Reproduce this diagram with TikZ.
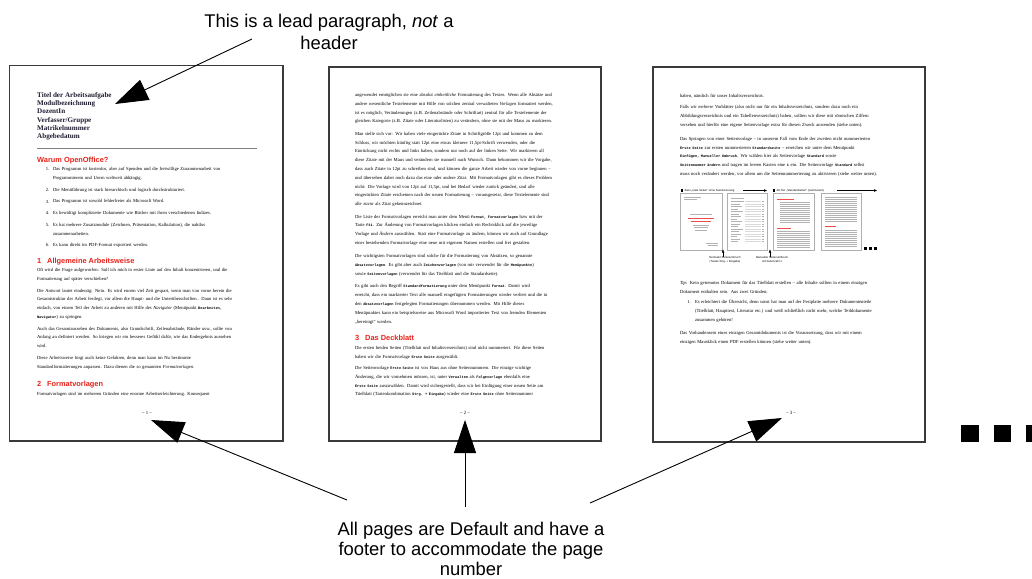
\documentclass[tikz,border=0pt]{standalone}
\usepackage{fontspec}
\setmainfont{Liberation Serif}
\newfontfamily\arial{Liberation Sans}
\newfontfamily\mono{Liberation Mono}
\usetikzlibrary{arrows.meta}
\definecolor{hred}{RGB}{230,34,26}
\definecolor{titleblue}{RGB}{28,28,48}
\definecolor{pageframe}{RGB}{58,58,58}
\definecolor{thumbgray}{RGB}{175,175,175}
\newcommand\mn[1]{{\mono\bfseries\fontsize{3.6}{8.8}\selectfont #1}}
\newcommand\pgtext[4]{\node[body] (#1) at (#2,#3-3.3) {#4};}
\newcommand\pgnum[4]{\node[num] (#1) at (#2,#3) {#4};}
\tikzset{
  page/.style={draw=pageframe, line width=1.8pt, fill=white},
  body/.style={anchor=north west, inner sep=0pt, outer sep=0pt, font=\fontsize{4.65}{8.8}\selectfont, align=left, text width=250pt},
  num/.style={anchor=base east, inner sep=0pt, font=\fontsize{4.65}{8.8}\selectfont},
  head/.style={anchor=base west, inner sep=0pt, font=\arial\bfseries\fontsize{7.4}{8.8}\selectfont, text=hred},
  foot/.style={anchor=base, inner sep=0pt, font=\fontsize{4.8}{8.8}\selectfont},
  callout/.style={inner sep=0pt, align=center},
  bigarrow/.style={draw=black, line width=0.9pt, -{Triangle[length=33pt,width=22pt]}},
  thumb/.style={draw=thumbgray, line width=0.5pt, fill=white},
  tl/.style={draw=black!30, line width=0.45pt},
  tr/.style={draw=hred!80, line width=0.7pt},
  tiny/.style={inner sep=0pt, font=\arial\fontsize{2.8}{3.6}\selectfont, align=center},
  smallarrow/.style={draw=black, line width=0.35pt, -{Triangle[length=3pt,width=2.4pt]}},
  dot/.style={fill=black},
}
\begin{document}
\begin{tikzpicture}[x=1pt,y=-1pt]
\useasboundingbox (0,0) rectangle (1032,578);
\clip (0,0) rectangle (1032,578);

% ---------------- pages ----------------
\draw[page] (9.5,65.5) rectangle (283,441);
\draw[page] (329,67) rectangle (601,441);
\draw[page] (653,67) rectangle (925,442);

% ---------------- page 1 ----------------
\node[anchor=north west, inner sep=0pt, font=\fontsize{7.1}{8.2}\selectfont\bfseries, text=titleblue, align=left] (titleblock) at (37,92.2)
 {Titel der Arbeitsaufgabe\\Modulbezeichnung\\DozentIn\\Verfasser/Gruppe\\Matrikelnummer\\Abgebedatum};
\draw[black!50, line width=0.7pt] (37,148.3) -- (257,148.3);
\node[head] (h1a) at (37,162) {Warum OpenOffice?};

\pgnum{n1}{49.5}{170.3}{1.}
\pgtext{i1}{53}{170.3}{Das Programm ist kostenlos, aber auf Spenden und die freiwillige Zusammenarbeit von\\Programmierern und Usern weltweit abhängig.}
\pgnum{n2}{49.5}{191.3}{2.}
\pgtext{i2}{53}{191.3}{Die Menüführung ist stark hierarchisch und logisch durchstrukturiert.}
\pgnum{n3}{49.5}{203}{3.}
\pgtext{i3}{53}{203}{Das Programm ist sowohl fehlerfreier als Microsoft Word.}
\pgnum{n4}{49.5}{214.5}{4.}
\pgtext{i4}{53}{214.5}{Es bewältigt komplizierte Dokumente wie Bücher mit ihren verschiedenen Indizes.}
\pgnum{n5}{49.5}{226.3}{5.}
\pgtext{i5}{53}{226.3}{Es hat mehrere Zusatzmodule (Zeichnen, Präsentation, Kalkulation), die nahtlos\\zusammenarbeiten.}
\pgnum{n6}{49.5}{246.3}{6.}
\pgtext{i6}{53}{246.3}{Es kann direkt im PDF-Format exportiert werden.}

\node[head] (h1bn) at (37,263.6) {1};
\node[head] (h1b) at (47,263.6) {Allgemeine Arbeitsweise};
\pgtext{pa}{37}{271.3}{Oft wird die Frage aufgeworfen: Soll ich mich in erster Linie auf den Inhalt konzentrieren, und die\\Formatierung auf später verschieben?}
\pgtext{pb}{37}{292.2}{Die Antwort lautet eindeutig: Nein. Es wird enorm viel Zeit gespart, wenn man von vorne herein die\\Gesamtstruktur der Arbeit festlegt, vor allem die Haupt- und die Unterüberschriften.. Dann ist es sehr\\einfach, von einem Teil der Arbeit zu anderen mit Hilfe des \textit{Navigator} (Menüpunkt \mn{Bearbeiten,}\\\mn{Navigator}) zu springen.}
\pgtext{pc}{37}{330.2}{Auch das Gesamtaussehen des Dokuments, also Grundschrift, Zeilenabstände, Ränder usw., sollte von\\Anfang an definiert werden. So kriegen wir ein besseres Gefühl dafür, wie das Endergebnis aussehen\\wird.}
\pgtext{pd}{37}{360}{Diese Arbeitsweise birgt auch keine Gefahren, denn man kann im Nu bestimmte\\Standardformatierungen anpassen. Dazu dienen die so genannten \textit{Formatvorlagen}.}
\node[head] (h1cn) at (37,386.6) {2};
\node[head] (h1c) at (47,386.6) {Formatvorlagen};
\pgtext{pe}{37}{395.3}{Formatvorlagen sind im mehreren Gründen eine enorme Arbeitserleichterung. Konsequent}
\node[foot] (f1) at (147,414) {– 1 –};

% ---------------- page 2 ----------------
\pgtext{q1}{355}{96.5}{angewendet ermöglichen sie eine absolut \textit{einheitliche} Formatierung des Textes. Wenn alle Absätze und\\andere wesentliche Textelemente mit Hilfe von solchen zentral verwalteten \textit{Vorlagen} formatiert werden,\\ist es möglich, Veränderungen (z.B. Zeilenabstände oder Schriftart) zentral für alle Textelemente der\\gleichen Kategorie (z.B. Zitate oder Literaturlisten) zu verändern, ohne sie mit der Maus zu markieren.}
\pgtext{q2}{355}{135.3}{Man stelle sich vor: Wir haben viele eingerückte Zitate in Schriftgröße 12pt und kommen zu dem\\Schluss, wir möchten künftig statt 12pt eine etwas kleinere 11,5pt-Schrift verwenden, oder die\\Einrückung nicht rechts und links haben, sondern nur noch auf der linken Seite. Wir markieren all\\diese Zitate mit der Maus und verändern sie manuell nach Wunsch. Dann bekommen wir die Vorgabe,\\dass auch Zitate in 12pt zu schreiben sind, und können die ganze Arbeit wieder von vorne beginnen –\\und übersehen dabei noch dazu das eine oder andere Zitat. Mit Formatvorlagen gibt es dieses Problem\\nicht: Die Vorlage wird von 12pt auf 11,5pt, und bei Bedarf wieder zurück geändert, und alle\\eingerückten Zitate erscheinen nach der neuen Formatierung – vorausgesetzt, diese Textelemente sind\\alle zuvor als Zitat gekennzeichnet.}
\pgtext{q3}{355}{218.1}{Die Liste der Formatvorlagen erreicht man unter dem Menü \mn{Format, Formatvorlagen} bzw mit der\\Taste \mn{F11}. Zur Änderung von Formatvorlagen klicken einfach ein Rechtsklick auf die jeweilige\\Vorlage und \textit{Ändern} auswählen. Statt eine Formatvorlage zu ändern, können wir auch auf Grundlage\\einer bestehenden Formatvorlage eine neue mit eigenem Namen erstellen und frei gestalten.}
\pgtext{q4}{355}{257.5}{Die wichtigsten Formatvorlagen sind solche für die Formatierung von Absätzen, so genannte\\\mn{Absatzvorlagen}. Es gibt aber auch \mn{Zeichenvorlagen} (von mir verwendet für die \mn{Menüpunkte})\\sowie \mn{Seitenvorlagen} (verwendet für das Titelblatt und die Standardseite).}
\pgtext{q5}{355}{288}{Es gibt auch den Begriff \mn{Standardformatierung} unter dem Menüpunkt \mn{Format}. Damit wird\\erreicht, dass ein markierter Text alle manuell eingefügten Formatierungen wieder verliert und die in\\den \mn{Absatzvorlagen} festgelegten Formatierungen übernommen werden. Mit Hilfe dieses\\Menüpunktes kann ein beispielsweise aus Microsoft Word importierter Text von fremden Elementen\\„bereinigt“ werden.}
\node[head] (h2n) at (355,340.6) {3};
\node[head] (h2) at (365,340.6) {Das Deckblatt};
\pgtext{q6}{355}{349.5}{Die ersten beiden Seiten (Titelblatt und Inhaltsverzeichnis) sind nicht nummeriert. Für diese Seiten\\haben wir die Formatvorlage \mn{Erste Seite} ausgewählt.}
\pgtext{q7}{355}{369.5}{Die Seitenvorlage \mn{Erste Seite} ist von Haus aus ohne Seitennummern. Die einzige wichtige\\Änderung, die wir vornehmen müssen, ist, unter \mn{Verwalten} als \mn{Folgevorlage} ebenfalls eine\\\mn{Erste Seite} auszuwählen. Damit wird sichergestellt, dass wir bei Einfügung einer neuen Seite am\\Titelblatt (Tastenkombination \mn{Strg. + Eingabe}) wieder eine \mn{Erste Seite} ohne Seitennummer}
\node[foot] (f2) at (465,414.5) {– 2 –};

% ---------------- page 3 ----------------
\pgtext{r1}{680}{97.3}{haben, nämlich für unser Inhaltsverzeichnis.}
\pgtext{r2}{680}{108.6}{Falls wir \textit{mehrere} Vorblätter (also nicht nur für ein Inhaltsverzeichnis, sondern dazu noch ein\\Abbildungsverzeichnis und ein Tabellenverzeichnis) haben, sollten wir diese mit römischen Ziffern\\versehen und hierfür eine eigene Seitenvorlage extra für diesen Zweck anwenden (siehe unten).}
\pgtext{r3}{680}{140.3}{Das Springen von einer Seitenvorlage – in unserem Fall vom Ende der zweiten nicht nummerierten\\\mn{Erste Seite} zur ersten nummerierten \mn{Standardseite} – erreichen wir unter dem Menüpunkt\\\mn{Einfügen, Manueller Umbruch}. Wir wählen hier als Seitenvorlage \mn{Standard} sowie\\\mn{Seitennummer ändern} und tragen im leeren Kasten eine \mn{1} ein. Die Seitenvorlage \mn{Standard} selbst\\muss noch verändert werden, vor allem um die Seitennummerierung zu aktivieren (siehe weiter unten).}

% mini diagram
\fill[dot] (680.8,189.3) rectangle (683.3,191.8);
\node[tiny, anchor=west] (lab1) at (684.5,190.5) {Zwei „erste Seiten“ ohne Nummerierung};
\coordinate (la1s) at (743,190.5);
\coordinate (la1e) at (767,190.5);
\draw[smallarrow] (la1s) -- (la1e);
\fill[dot] (772.8,189.3) rectangle (775.3,191.8);
\node[tiny, anchor=west] (lab2) at (776.5,190.5) {Ab hier „Standardseiten“ (nummeriert)};
\coordinate (la2s) at (837,190.5);
\coordinate (la2e) at (877,190.5);
\draw[smallarrow] (la2s) -- (la2e);

\draw[thumb] (680,193.5) rectangle (722,250);
\draw[tl] (684,197.5) -- (701,197.5); \draw[tl] (684,199.5) -- (697,199.5);
\draw[tl] (690,214) -- (712,214);
\draw[tr, line width=0.9pt] (688,218.5) -- (714,218.5);
\draw[tr, line width=0.5pt] (691,221.5) -- (711,221.5);
\draw[tl] (693,225) -- (709,225); \draw[tl] (694,227.5) -- (708,227.5); \draw[tl] (695,230) -- (707,230);
\draw[tl] (706,243) -- (718,243); \draw[tl] (708,245) -- (718,245);

\draw[thumb] (727,193.5) rectangle (767,250);
\draw[tl] (731,198) -- (744,198);
\foreach \yy/\ll in {201.5/13,204/9,206.5/11,209/7,211.5/12,214/8,216.5/10,219/6,221.5/11,224/9,226.5/7,229/12,231.5/8,234/10,236.5/6,239/9,241.5/7}{
  \draw[tl, line width=0.35pt] (731,\yy) -- (731+\ll,\yy);
  \draw[tl, black!15, line width=0.35pt] (745,\yy) -- (761,\yy);
  \draw[tl, line width=0.35pt] (762,\yy) -- (764,\yy);
}

\draw[thumb] (773,193.5) rectangle (814,250);
\draw[tr] (777,199) -- (794,199);
\foreach \yy in {202,204,206,208,210,212,214,216,218,220,222}{\draw[tl, line width=0.35pt] (780,\yy) -- (810,\yy);}
\draw[tr] (777,228) -- (791,228);
\foreach \yy in {231,233,235,237,239,241,243,245,247}{\draw[tl, line width=0.35pt] (777,\yy) -- (810,\yy);}

\draw[thumb] (821,193.5) rectangle (861,250);
\foreach \yy in {197,199,201,203,205,207,209,211,213,215,217,219,221}{\draw[tl, line width=0.35pt] (825,\yy) -- (857,\yy);}
\draw[tr] (825,226.5) -- (836,226.5);
\foreach \yy in {230,232,234,236,238,240,242,244,246}{\draw[tl, line width=0.35pt] (825,\yy) -- (857,\yy);}
\fill[dot] (863.5,246.5) rectangle ++(3,3);
\fill[dot] (868.5,246.5) rectangle ++(3,3);
\fill[dot] (873.5,246.5) rectangle ++(3,3);

\coordinate (sa1s) at (723,257);
\coordinate (sa1e) at (723,249.5);
\draw[smallarrow] (sa1s) -- (sa1e);
\coordinate (sa2s) at (770,257);
\coordinate (sa2e) at (770,249.5);
\draw[smallarrow] (sa2s) -- (sa2e);
\node[tiny, anchor=north] (lab3) at (725,256.5) {Normaler Seitenumbruch\\(Tasten Strg. + Eingabe)};
\node[tiny, anchor=north] (lab4) at (772,256.5) {Manueller Seitenumbruch\\mit Seitenzahl 1};

\pgtext{r4}{680}{284.3}{\textit{Tip:} Kein getrenntes Dokument für das Titelblatt erstellen – alle Inhalte sollten in einem einzigen\\Dokument enthalten sein. Aus zwei Gründen:}
\pgnum{rn1}{691}{303.3}{1.}
\pgtext{r5}{695}{303.3}{Es erleichtert die Übersicht, denn sonst hat man auf der Festplatte mehrere Dokumententeile\\(Titelblatt, Haupttext, Literatur etc.) und weiß schließlich nicht mehr, welche Teildokumente\\zusammen gehören!}
\pgtext{r6}{680}{334.5}{Das Vorhandensein eines einzigen Gesamtdokuments ist die Voraussetzung, dass wir mit einem\\einzigen Mausklick einen PDF erstellen können (siehe weiter unten).}
\node[foot] (f3) at (791,414.5) {– 3 –};

% ---------------- ellipsis squares ----------------
\fill[dot] (961,425) rectangle (979,442);
\fill[dot] (994,425) rectangle (1011,442);
\fill[dot] (1026,425) rectangle (1044,442);

% ---------------- callouts ----------------
\node[callout, anchor=north, font=\arial\fontsize{18.4}{22}\selectfont] (lead) at (329,14)
  {This is a lead paragraph, \textit{not} a\\header};
\node[callout, anchor=north, font=\arial\fontsize{18.4}{20.3}\selectfont] (allpages) at (471,521.5)
  {All pages are Default and have a\\footer to accommodate the page\\number};

\coordinate (leadtail) at (252,39);
\coordinate (leadtip) at (115,104);
\draw[bigarrow] (leadtail) -- (leadtip);

\coordinate (ftail1) at (347,500);
\coordinate (ftip1) at (151,420);
\coordinate (ftail2) at (465,507);
\coordinate (ftip2) at (465,420);
\coordinate (ftail3) at (590,503);
\coordinate (ftip3) at (782,418);
\draw[bigarrow] (ftail1) -- (ftip1);
\draw[bigarrow] (ftail2) -- (ftip2);
\draw[bigarrow] (ftail3) -- (ftip3);
\end{tikzpicture}
\end{document}
